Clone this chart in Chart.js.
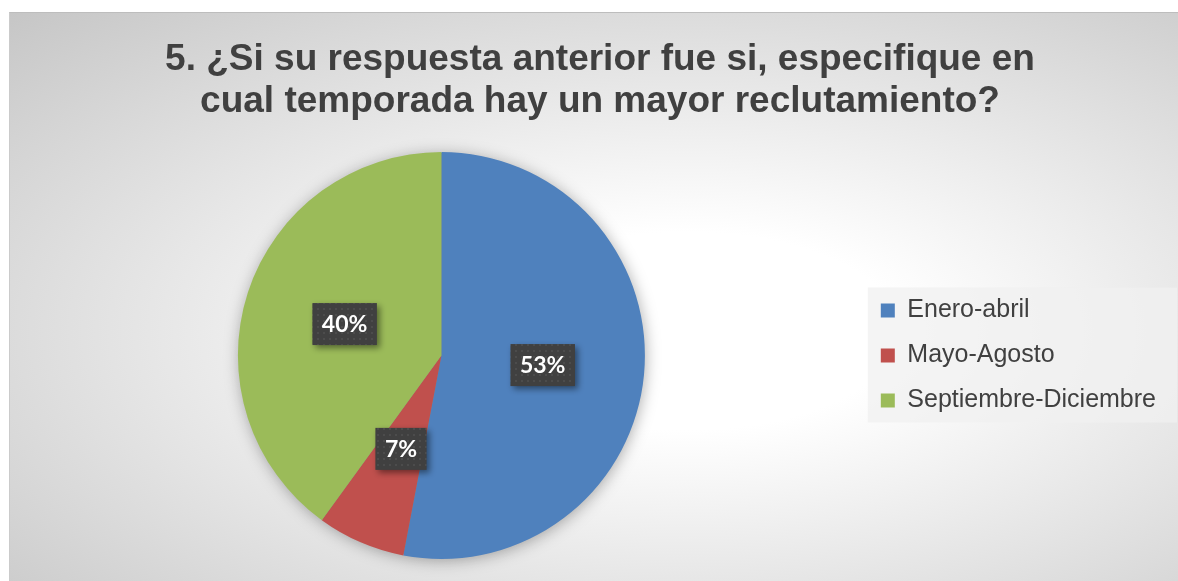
<!DOCTYPE html>
<html>
<head>
<meta charset="utf-8">
<script src="https://cdn.jsdelivr.net/npm/chart.js@4.4.0/dist/chart.umd.min.js"></script>
<style>
  html, body { margin: 0; padding: 0; background: #fff; }
  #fondo {
    position: absolute; left: 9px; top: 12px; width: 1169px; height: 569px;
    background: radial-gradient(ellipse at 58% 56%, #ffffff 0%, #ffffff 22%, #c6c6c6 100%);
    border-top: 1px solid #bdbdbd; border-left: 1px solid #cbcbcb; box-sizing: border-box;
  }
  #grafico { position: absolute; left: 9px; top: 12px; }
</style>
</head>
<body>
<div id="fondo"></div>
<canvas id="grafico" width="1169" height="569"></canvas>
<script>
// datos de la pregunta 5
const temporadas = ['Enero-abril', 'Mayo-Agosto', 'Septiembre-Diciembre'];
const porcentajes = [53, 7, 40];
const colores = ['#4f81bd', '#c0504d', '#9bbb59'];
const titulo = ['5. ¿Si su respuesta anterior fue si, especifique en', 'cual temporada hay un mayor reclutamiento?'];

// trama punteada de las etiquetas
function tramaEtiqueta(ctx) {
  const c = document.createElement('canvas');
  c.width = 6; c.height = 6;
  const g = c.getContext('2d');
  g.fillStyle = '#404040';
  g.fillRect(0, 0, 6, 6);
  g.fillStyle = '#4c4c4c';
  g.fillRect(2, 2, 2, 2);
  return ctx.createPattern(c, 'repeat');
}

// sombra suave alrededor del pastel
const sombraPastel = {
  id: 'sombraPastel',
  beforeDatasetsDraw(chart) {
    const arco = chart.getDatasetMeta(0).data[0];
    if (!arco) return;
    const ctx = chart.ctx;
    ctx.save();
    ctx.shadowColor = 'rgba(0,0,0,0.35)';
    ctx.shadowBlur = 16;
    ctx.shadowOffsetX = 1;
    ctx.shadowOffsetY = 2;
    ctx.fillStyle = '#888';
    ctx.beginPath();
    ctx.arc(arco.x, arco.y, arco.outerRadius - 1, 0, Math.PI * 2);
    ctx.fill();
    ctx.restore();
  }
};

// etiquetas con porcentaje en cajas oscuras
const etiquetas = {
  id: 'etiquetas',
  afterDatasetsDraw(chart) {
    const ctx = chart.ctx;
    const trama = tramaEtiqueta(ctx);
    ctx.save();
    ctx.font = 'bold 23px Lato, "Liberation Sans", sans-serif';
    ctx.textAlign = 'center';
    ctx.textBaseline = 'middle';
    chart.getDatasetMeta(0).data.forEach((arco, i) => {
      const p = arco.tooltipPosition();
      const txt = porcentajes[i] + '%';
      const w = ctx.measureText(txt).width + 19;
      const h = 42;
      ctx.save();
      ctx.shadowColor = 'rgba(0,0,0,0.45)';
      ctx.shadowBlur = 6;
      ctx.shadowOffsetX = 3;
      ctx.shadowOffsetY = 3;
      ctx.fillStyle = trama;
      ctx.fillRect(p.x - w / 2, p.y - h / 2, w, h);
      ctx.restore();
      ctx.fillStyle = '#ffffff';
      ctx.fillText(txt, p.x, p.y + 1);
    });
    ctx.restore();
  }
};

// caja clara detras de la leyenda
const fondoLeyenda = {
  id: 'fondoLeyenda',
  afterDraw(chart) {
    const cajas = chart.legend.legendHitBoxes;
    if (!cajas || !cajas.length) return;
    const ctx = chart.ctx;
    const x0 = cajas[0].left - 13;
    const y0 = cajas[0].top + cajas[0].height / 2 - 23;
    const ult = cajas[cajas.length - 1];
    const y1 = ult.top + ult.height / 2 + 22;
    ctx.save();
    ctx.globalCompositeOperation = 'destination-over';
    ctx.fillStyle = 'rgba(240,240,240,0.75)';
    ctx.fillRect(x0, y0, chart.width - 1 - x0, y1 - y0);
    ctx.restore();
  }
};

// un poco mas de ancho para la leyenda
const anchoLeyenda = {
  id: 'anchoLeyenda',
  beforeInit(chart) {
    const fit = chart.legend.fit;
    chart.legend.fit = function () {
      fit.bind(chart.legend)();
      this.width += 12;
    };
  }
};

new Chart(document.getElementById('grafico'), {
  type: 'pie',
  data: {
    labels: temporadas,
    datasets: [{
      data: porcentajes,
      backgroundColor: colores,
      borderWidth: 0
    }]
  },
  options: {
    responsive: false,
    animation: false,
    layout: { padding: { left: 13, right: 0, top: 0, bottom: 22 } },
    plugins: {
      title: {
        display: true,
        text: titulo,
        color: '#404040',
        font: { family: '"Liberation Sans", Arial, sans-serif', size: 37, weight: 'bold', lineHeight: 1.135 },
        padding: { top: 27, bottom: 29 }
      },
      legend: {
        position: 'right',
        fullSize: false,
        labels: {
          color: '#404040',
          font: { family: '"Liberation Sans", Arial, sans-serif', size: 25 },
          boxWidth: 14,
          boxHeight: 14,
          padding: 20
        }
      },
      tooltip: { enabled: false }
    }
  },
  plugins: [anchoLeyenda, sombraPastel, etiquetas, fondoLeyenda]
});
</script>
</body>
</html>
